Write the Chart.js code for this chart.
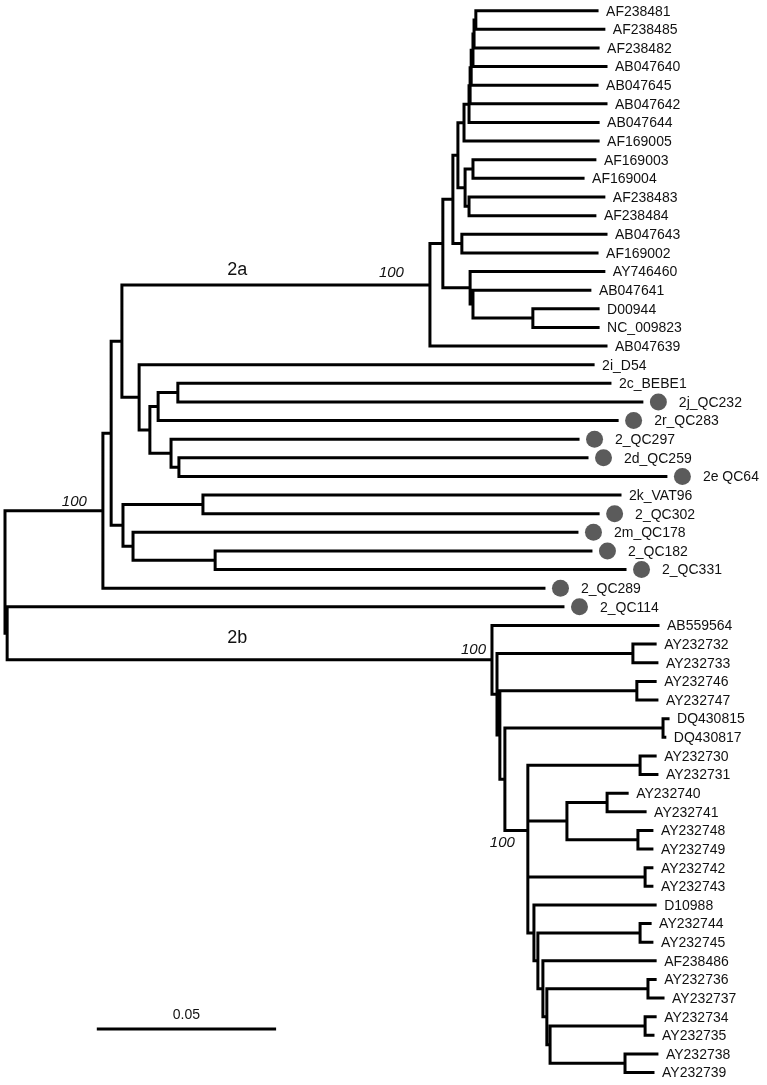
<!DOCTYPE html>
<html><head><meta charset="utf-8">
<script src="https://cdn.jsdelivr.net/npm/chart.js@4.4.0/dist/chart.umd.min.js"></script>
<style>html,body{margin:0;padding:0;background:#fff}#wrap{width:767px;height:1085px;position:relative}</style>
</head><body><div id="wrap"><canvas id="c"></canvas></div>
<script>
// ---- leaves (top to bottom) ----
const leafNames = ['AF238481','AF238485','AF238482','AB047640','AB047645','AB047642','AB047644','AF169005','AF169003','AF169004',
 'AF238483','AF238484','AB047643','AF169002','AY746460','AB047641','D00944','NC_009823','AB047639',
 '2i_D54','2c_BEBE1','2j_QC232','2r_QC283','2_QC297','2d_QC259','2e QC64','2k_VAT96','2_QC302','2m_QC178','2_QC182','2_QC331','2_QC289','2_QC114',
 'AB559564','AY232732','AY232733','AY232746','AY232747','DQ430815','DQ430817','AY232730','AY232731','AY232740','AY232741',
 'AY232748','AY232749','AY232742','AY232743','D10988','AY232744','AY232745','AF238486','AY232736','AY232737','AY232734','AY232735','AY232738','AY232739'];
// cumulative distance from root to each tip
const leafDepths = [0.1651,0.1670,0.1654,0.1676,0.1651,0.1676,0.1654,0.1654,0.1645,0.1612,
 0.1670,0.1645,0.1676,0.1651,0.1670,0.1631,0.1654,0.1654,0.1676,
 0.1640,0.1687,0.1776,0.1707,0.1598,0.1623,0.1843,0.1715,0.1654,0.1595,0.1634,0.1729,0.1503,0.1556,
 0.1821,0.1813,0.1818,0.1813,0.1818,0.1849,0.1840,0.1813,0.1818,0.1735,0.1785,
 0.1804,0.1804,0.1804,0.1804,0.1813,0.1799,0.1804,0.1813,0.1813,0.1835,0.1813,0.1807,0.1818,0.1807];
const markedLeaves = ['2j_QC232','2r_QC283','2_QC297','2d_QC259','2e QC64','2_QC302','2m_QC178','2_QC182','2_QC331','2_QC289','2_QC114'];

// ---- internal nodes ----
const nodeNames = ['root','R0','A','B','C','c2a','M','S','T','U7','U6','U5','U4','U3','U2','U1','V','V1','V2','W','N','N2','N3',
 'E','F','G','G1','H','I','D','J','K','L',
 'c2b','P1','p34','P2','p36','P3','p38','Q','p40','R','p42','p44','p46','Q4','Q5','p49','Q6','Q7','p52','Q8','p54','p56'];
const nodeDepths = [0,0.0006,0.0273,0.0296,0.0326,0.1185,0.1221,0.1249,0.1263,0.1280,0.1294,0.1297,0.1300,0.1305,0.1308,0.1313,0.1283,0.1305,0.1294,0.1274,0.1297,0.1305,0.1472,
 0.0374,0.0404,0.0427,0.0482,0.0463,0.0485,0.0329,0.0552,0.0357,0.0586,
 0.1358,0.1372,0.1751,0.1380,0.1762,0.1394,0.1835,0.1458,0.1771,0.1567,0.1679,0.1765,0.1785,0.1475,0.1486,0.1771,0.1500,0.1511,0.1793,0.1520,0.1785,0.1729];
const nodeChildren = ['A|R0','2_QC114|c2b','B|2_QC289','C|D','c2a|E','M|AB047639','S|N','T|W','U7|V','U6|AF169005','U5|AB047644','U4|AB047642','U3|AB047645','U2|AB047640','U1|AF238482','AF238481|AF238485','V1|V2','AF169003|AF169004','AF238483|AF238484','AB047643|AF169002','AY746460|N2','AB047641|N3','D00944|NC_009823',
 '2i_D54|F','G|H','G1|2r_QC283','2c_BEBE1|2j_QC232','2_QC297|I','2d_QC259|2e QC64','J|K','2k_VAT96|2_QC302','2m_QC178|L','2_QC182|2_QC331',
 'AB559564|P1','p34|P2','AY232732|AY232733','p36|P3','AY232746|AY232747','p38|Q','DQ430815|DQ430817','p40|R|p46|Q4','AY232730|AY232731','p42|p44','AY232740|AY232741','AY232748|AY232749','AY232742|AY232743','D10988|Q5','p49|Q6','AY232744|AY232745','AF238486|Q7','p52|Q8','AY232736|AY232737','p54|p56','AY232734|AY232735','AY232738|AY232739'];
// nodes whose drawn row differs from the midpoint of their children (row index units)
const fixedRowNodes = ['c2a','Q'];
const fixedRows = [14.73,44.0];

// ---- annotations ----
const supportNodes = ['A','c2a','c2b','Q'];
const supportValues = ['100','100','100','100'];
const cladeNodes = ['c2a','c2b'];
const cladeNames = ['2a','2b'];
const scaleBarStart = 0.0256;
const scaleBarLength = 0.05;
const scaleBarRow = 54.66;
const scaleBarText = '0.05';

// ---- build geometry from the data ----
const pos = {};
leafNames.forEach((n,i)=>{ pos[n] = {x: leafDepths[i], y: i}; });
const kids = {}; const depthOf = {};
nodeNames.forEach((n,i)=>{ kids[n] = nodeChildren[i].split('|'); depthOf[n] = nodeDepths[i]; });
function place(n){
  if (pos[n]) return pos[n];
  const cs = kids[n].map(place);
  const fi = fixedRowNodes.indexOf(n);
  const y = fi >= 0 ? fixedRows[fi] : (cs[0].y + cs[cs.length-1].y)/2;
  pos[n] = {x: depthOf[n], y: y};
  return pos[n];
}
place('root');
const segs = [];
function addSeg(x1,y1,x2,y2){ segs.push({x:x1,y:y1},{x:x2,y:y2},{x:x2,y:null}); }
nodeNames.forEach(n=>{
  const p = pos[n];
  const ys = kids[n].map(c=>pos[c].y).concat([p.y]);
  addSeg(p.x, Math.min(...ys), p.x, Math.max(...ys));
  kids[n].forEach(c=>{ addSeg(p.x, pos[c].y, pos[c].x, pos[c].y); });
});
const MARK_GAP = 0.0046;
const markers = markedLeaves.map(n=>({x: pos[n].x + MARK_GAP, y: pos[n].y}));

const PX_PER_UNIT = 3586;
const X_MIN = -5/PX_PER_UNIT, X_MAX = X_MIN + 767/PX_PER_UNIT;
const ROW_PX = 18.63, TOP_PX = 10.7;
const Y_MIN = -TOP_PX/ROW_PX, Y_MAX = Y_MIN + 1085/ROW_PX;

const textPlugin = {
  id: 'treeText',
  afterDatasetsDraw(chart){
    const ctx = chart.ctx, xs = chart.scales.x, ys = chart.scales.y;
    ctx.save();
    ctx.fillStyle = '#111';
    ctx.textBaseline = 'middle';
    ctx.textAlign = 'left';
    ctx.font = '14px "Liberation Sans", Arial, sans-serif';
    leafNames.forEach((n,i)=>{
      const off = markedLeaves.includes(n) ? 37 : 9;
      ctx.fillText(n, xs.getPixelForValue(leafDepths[i]) + off, ys.getPixelForValue(i) + 1);
    });
    // support values
    const supOff = {A:[-16,-9], c2a:[-26,-12], c2b:[-6,-10], Q:[-13,12]};
    ctx.font = 'italic 15px "Liberation Sans", Arial, sans-serif';
    ctx.textAlign = 'right';
    supportNodes.forEach((n,i)=>{
      const o = supOff[n];
      ctx.fillText(supportValues[i], xs.getPixelForValue(pos[n].x) + o[0], ys.getPixelForValue(pos[n].y) + o[1]);
    });
    // clade names
    const cladeX = [0.0648, 0.0648];
    const cladeDy = [-15, -22];
    ctx.font = '18px "Liberation Sans", Arial, sans-serif';
    ctx.textAlign = 'center';
    cladeNodes.forEach((n,i)=>{
      ctx.fillText(cladeNames[i], xs.getPixelForValue(cladeX[i]), ys.getPixelForValue(pos[n].y) + cladeDy[i]);
    });
    // scale bar text
    ctx.font = '14px "Liberation Sans", Arial, sans-serif';
    ctx.fillText(scaleBarText, xs.getPixelForValue(scaleBarStart + scaleBarLength/2), ys.getPixelForValue(scaleBarRow) - 14);
    ctx.restore();
  }
};

new Chart(document.getElementById('c'), {
  type: 'scatter',
  data: { datasets: [
    { label: 'branches', data: segs, showLine: true, spanGaps: false, borderColor: '#000', borderWidth: 3,
      borderCapStyle: 'square', borderJoinStyle: 'miter', pointRadius: 0, pointHoverRadius: 0, tension: 0, clip: 10 },
    { label: 'markers', data: markers, showLine: false, pointRadius: 8.5, pointHoverRadius: 8.5,
      pointBackgroundColor: '#5b5b5b', pointBorderWidth: 0, borderColor: '#5b5b5b', clip: 10 },
    { label: 'scale', data: [{x: scaleBarStart, y: scaleBarRow}, {x: scaleBarStart + scaleBarLength, y: scaleBarRow}],
      showLine: true, borderColor: '#000', borderWidth: 3, pointRadius: 0, pointHoverRadius: 0 }
  ]},
  options: {
    animation: false, responsive: true, maintainAspectRatio: false,
    layout: { padding: 0, autoPadding: false },
    plugins: { legend: { display: false }, tooltip: { enabled: false } },
    scales: {
      x: { type: 'linear', display: false, min: X_MIN, max: X_MAX },
      y: { type: 'linear', display: false, reverse: true, min: Y_MIN, max: Y_MAX }
    }
  },
  plugins: [textPlugin]
});
</script></body></html>
